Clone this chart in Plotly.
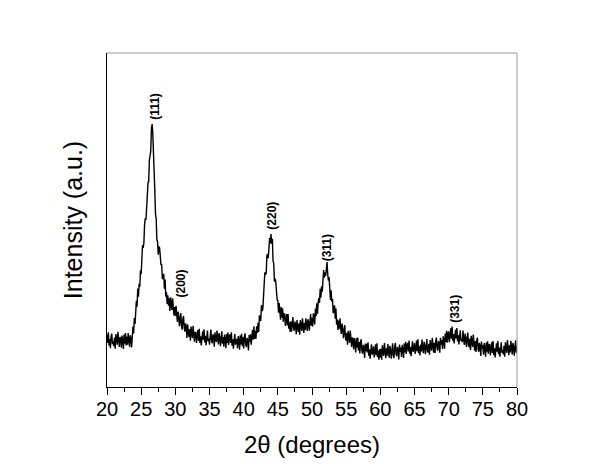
import plotly.graph_objects as go

# 2theta from 20 to 80 in 0.1 degree steps
two_theta = [round(20 + 0.1 * i, 1) for i in range(601)]

intensity = [
    262, 220, 273, 207, 240, 194, 254, 267, 214, 227,
    204, 247, 192, 265, 237, 212, 276, 222, 200, 250,
    244, 197, 257, 234, 190, 262, 217, 270, 208, 252,
    212, 270, 224, 202, 259, 242, 198, 261, 302, 268,
    345, 315, 365, 431, 402, 492, 452, 516, 500, 584,
    565, 657, 710, 695, 722, 813, 843, 835, 948, 957,
    1022, 1025, 1135, 1167, 1178, 1290, 1315, 1268, 1126, 1070,
    980, 863, 841, 735, 728, 662, 702, 695, 622, 610,
    615, 540, 545, 566, 492, 537, 452, 474, 415, 459,
    407, 443, 380, 448, 415, 385, 444, 385, 358, 400,
    355, 406, 352, 325, 377, 355, 304, 351, 370, 304,
    287, 340, 355, 295, 277, 318, 298, 245, 313, 274,
    250, 290, 232, 302, 271, 244, 306, 250, 226, 272,
    275, 220, 245, 285, 231, 291, 220, 254, 208, 262,
    278, 236, 289, 223, 256, 209, 269, 282, 229, 242,
    212, 269, 287, 232, 219, 264, 249, 201, 274, 238,
    225, 282, 235, 213, 269, 251, 204, 256, 279, 216,
    250, 202, 262, 238, 194, 265, 220, 272, 210, 253,
    263, 220, 273, 206, 239, 192, 252, 265, 212, 224,
    241, 194, 254, 230, 186, 258, 213, 266, 204, 248,
    193, 250, 268, 213, 200, 246, 231, 183, 260, 227,
    263, 211, 240, 286, 237, 303, 240, 281, 242, 304,
    270, 321, 275, 358, 340, 330, 409, 380, 388, 478,
    480, 573, 562, 570, 657, 665, 644, 718, 745, 718,
    765, 716, 741, 630, 618, 527, 542, 525, 442, 435,
    432, 372, 420, 388, 336, 400, 347, 394, 326, 365,
    365, 306, 327, 365, 308, 365, 292, 324, 276, 328,
    277, 333, 350, 295, 281, 327, 311, 263, 335, 298,
    276, 318, 262, 335, 306, 280, 344, 291, 270, 321,
    285, 344, 300, 280, 339, 325, 282, 337, 365, 307,
    345, 303, 368, 351, 313, 392, 355, 418, 366, 422,
    445, 420, 491, 447, 503, 477, 557, 585, 547, 573,
    555, 617, 625, 565, 532, 550, 508, 435, 483, 427,
    440, 370, 380, 408, 342, 392, 312, 338, 285, 332,
    292, 344, 292, 265, 317, 295, 244, 291, 310, 243,
    232, 271, 212, 281, 250, 221, 282, 225, 200, 247,
    238, 188, 245, 219, 173, 243, 196, 247, 183, 225,
    168, 223, 239, 182, 167, 211, 195, 145, 217, 179,
    216, 173, 224, 157, 189, 142, 202, 214, 161, 173,
    203, 148, 173, 213, 159, 219, 149, 182, 136, 190,
    148, 191, 136, 209, 181, 156, 220, 166, 144, 194,
    157, 215, 169, 147, 205, 188, 142, 194, 219, 157,
    145, 202, 221, 166, 154, 200, 186, 138, 212, 176,
    197, 150, 211, 188, 145, 217, 173, 226, 165, 209,
    220, 178, 232, 166, 200, 154, 215, 228, 176, 189,
    220, 165, 191, 232, 179, 239, 169, 204, 158, 212,
    178, 237, 191, 169, 226, 210, 164, 216, 240, 179,
    173, 216, 161, 235, 207, 182, 246, 193, 171, 221,
    170, 228, 247, 193, 182, 230, 217, 171, 246, 212,
    235, 190, 253, 233, 192, 267, 225, 281, 222, 269,
    277, 224, 251, 294, 242, 302, 231, 265, 218, 271,
    286, 243, 295, 228, 260, 213, 272, 284, 230, 241,
    225, 282, 234, 211, 267, 248, 200, 250, 272, 208,
    200, 242, 185, 256, 227, 200, 262, 206, 182, 230,
    175, 231, 247, 191, 176, 221, 204, 155, 227, 190,
    209, 161, 220, 196, 151, 222, 176, 229, 166, 210,
    213, 158, 183, 224, 170, 230, 160, 194, 148, 202,
    219, 177, 230, 164, 197, 151, 211, 224, 171, 184,
    163, 206, 151, 224, 196, 171, 235, 181, 159, 209,
    173, 231, 185, 163, 220, 203, 157, 209, 233, 171,
    205,
]

peak_labels = ["(111)", "(200)", "(220)", "(311)", "(331)"]
peak_label_x = [27.0, 30.9, 44.1, 52.25, 70.9]
peak_label_y = [1405, 520, 855, 695, 390]

x_tick_vals = list(range(20, 81, 5))
x_tick_text = [str(v) for v in x_tick_vals]

fig = go.Figure()
fig.add_trace(go.Scatter(
    x=two_theta, y=intensity, mode="lines",
    line=dict(color="black", width=1.4),
    showlegend=False, hoverinfo="skip",
))

for lab, lx, ly in zip(peak_labels, peak_label_x, peak_label_y):
    fig.add_annotation(
        x=lx, y=ly, xref="x", yref="y", text="<b>" + lab + "</b>",
        showarrow=False, textangle=-90,
        font=dict(family="Liberation Sans, Arial", size=12, color="black"),
    )

# top and right frame lines (grey)
fig.add_shape(type="line", xref="paper", yref="paper", x0=0, x1=1, y0=1, y1=1,
              line=dict(color="#9a9a9a", width=1))
fig.add_shape(type="line", xref="paper", yref="paper", x0=1, x1=1, y0=0, y1=1,
              line=dict(color="#9a9a9a", width=1))

fig.update_layout(
    width=600, height=464,
    margin=dict(l=99, r=91, t=45, b=85, autoexpand=False),
    paper_bgcolor="white", plot_bgcolor="white",
    font=dict(family="Liberation Sans, Arial", color="black"),
    xaxis=dict(
        range=[20, 80], tickvals=x_tick_vals, ticktext=x_tick_text,
        ticks="outside", ticklen=7, tickwidth=1, tickcolor="black",
        showline=True, linecolor="black", linewidth=1,
        showgrid=False, zeroline=False, automargin=False,
        tickfont=dict(size=20), ticklabelstandoff=-3,
        minor=dict(tick0=22.5, dtick=5, ticks="outside", ticklen=4,
                   tickcolor="black", showgrid=False),
        title=dict(text="2θ (degrees)", font=dict(size=24), standoff=17),
    ),
    yaxis=dict(
        range=[0, 1670], showticklabels=False, ticks="",
        showline=True, linecolor="black", linewidth=1,
        showgrid=False, zeroline=False, automargin=False,
        title=dict(text="Intensity (a.u.)", font=dict(size=25), standoff=16),
    ),
)

fig.write_html("out.html")
